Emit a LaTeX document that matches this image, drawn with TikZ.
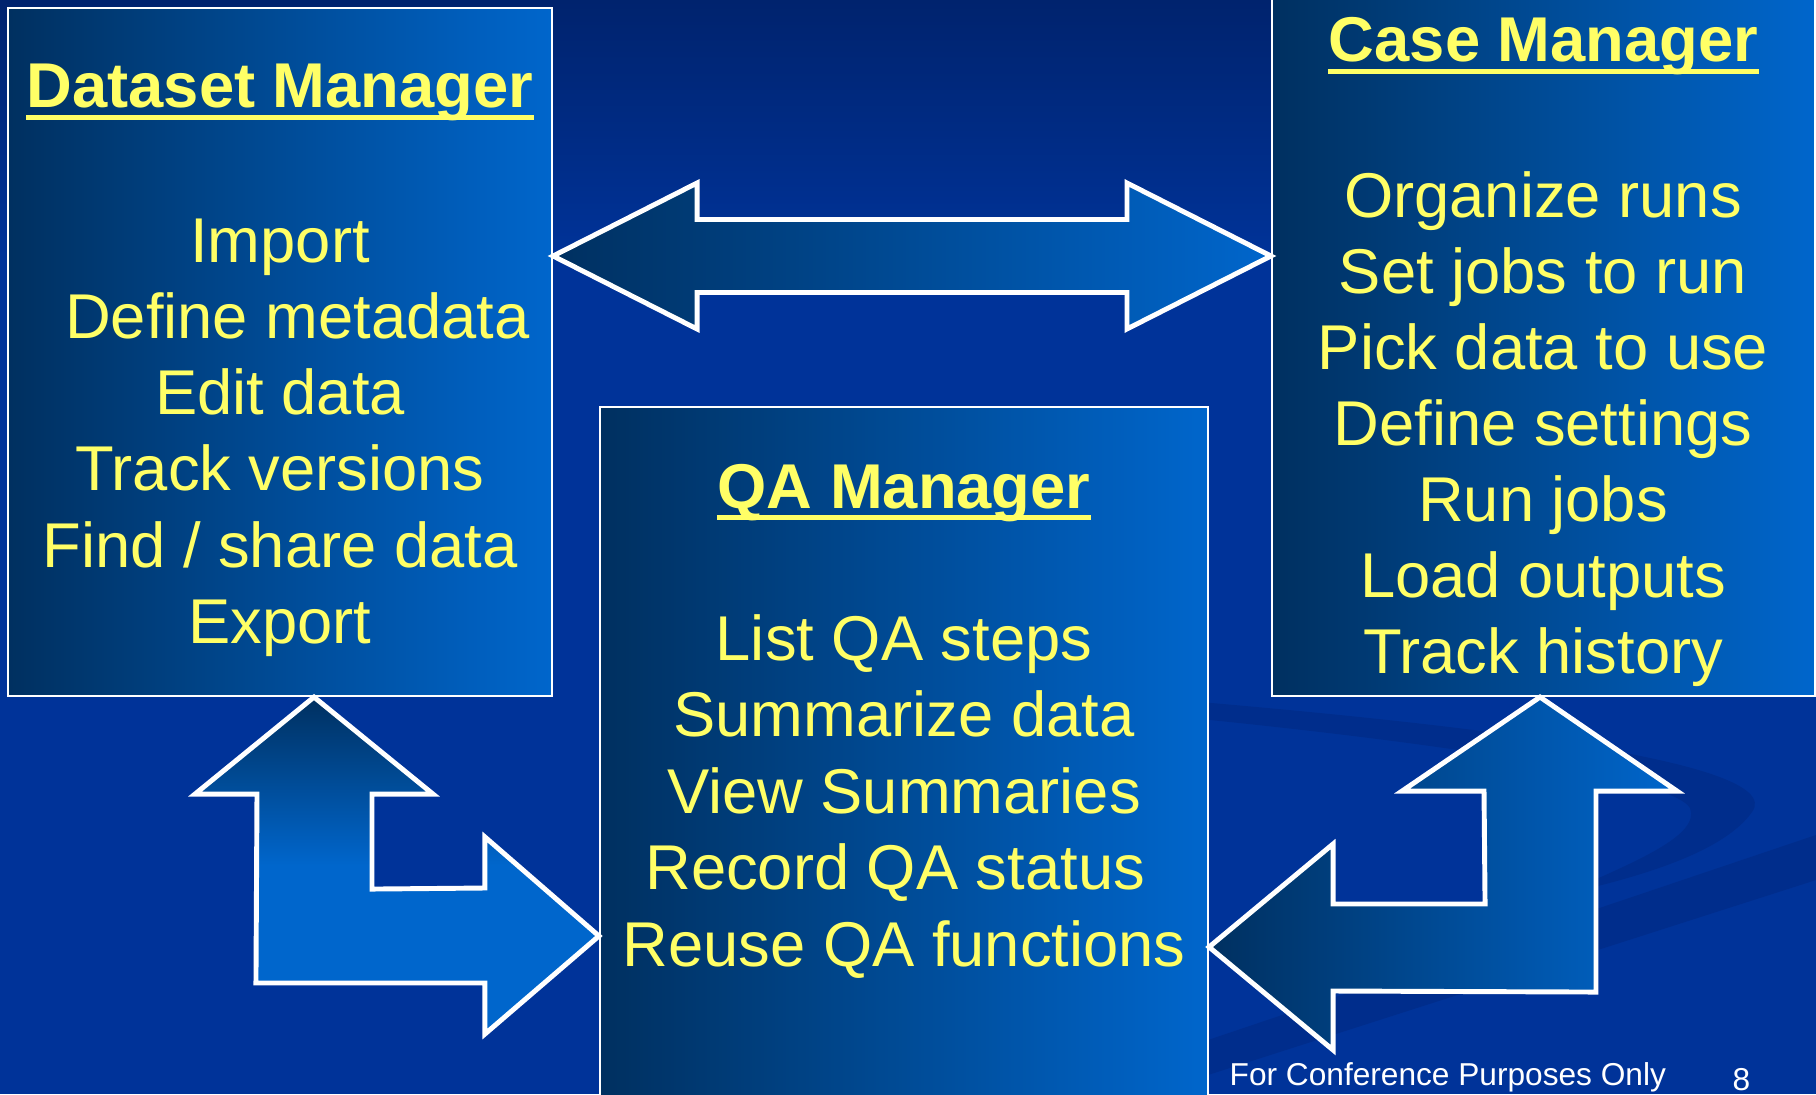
\documentclass[tikz,border=0pt]{standalone}
\usepackage{fontspec}
\setmainfont{Liberation Sans}
\usetikzlibrary{calc, fit}
\definecolor{bg}{RGB}{0,51,153}
\definecolor{bgtop}{RGB}{0,35,110}
\definecolor{bgdk}{RGB}{0,40,128}
\definecolor{boxdk}{RGB}{0,48,96}
\definecolor{boxlt}{RGB}{0,102,204}
\definecolor{yel}{RGB}{255,255,102}
\tikzset{mgrbox/.style={draw=white, line width=0.6pt, inner sep=0pt, left color=boxdk, right color=boxlt}}
\tikzset{blkarr/.style={draw=white, line width=1.4pt, line join=miter}}
\tikzset{ttl/.style={text=yel, inner sep=0pt, anchor=base, font=\fontsize{18}{21.7}\selectfont\bfseries}}
\tikzset{item/.style={text=yel, inner sep=0pt, anchor=base, font=\fontsize{18}{21.7}\selectfont}}
\tikzset{uline/.style={draw=yel, line width=1.4pt}}
\tikzset{foot/.style={text=white, inner sep=0pt, anchor=base west, font=\fontsize{9}{11}\selectfont}}
\tikzset{swoosh/.style={fill=bgdk, fill opacity=0.5}}

\begin{document}
\begin{tikzpicture}[x=0.01cm, y=-0.01cm]
	\useasboundingbox (0,0) rectangle (1816,1094);
	\clip (0,0) rectangle (1816,1094);
	\fill[bg] (0,0) rectangle (1816,1094);
	\shade[top color=bgtop, bottom color=bg] (0,0) rectangle (1816,260);
	% faint swooshes of the slide
	\fill[swoosh] (1050,690) .. controls (1450,720) and (1790,760) .. (1752,812)
		.. controls (1725,850) and (1650,875) .. (1560,895)
		.. controls (1640,860) and (1700,835) .. (1690,808)
		.. controls (1670,775) and (1400,735) .. (1050,705) -- cycle;
	\fill[swoosh] (1208,1040) -- (1816,835) -- (1816,880) -- (1208,1075) -- cycle;

	\node[mgrbox, fit={(8,8) (552,696)}] (ds) {};
	\node[mgrbox, fit={(600,407) (1208,1110)}] (qa) {};
	\node[mgrbox, fit={(1272,-10) (1815,696)}] (cm) {};

	\node[ttl] (dsT) at (ds.north |- 0,108) {Dataset Manager};
	\node[ttl] (qaT) at (qa.north |- 0,508) {QA Manager};
	\node[ttl] (cmT) at (cm.north |- 0,62) {Case Manager};
	\foreach \n in {dsT, qaT, cmT}
		\draw[uline] ([yshift=-2.7pt]\n.base west) -- ([yshift=-2.7pt]\n.base east);

	\foreach \t [count=\i from 0] in {Import, \hspace*{.55em}Define metadata, Edit data,
			Track versions, Find / share data, Export}
		\node[item] (ds-\i) at (280,262+76.3*\i) {\t};
	\foreach \t [count=\i from 0] in {List QA steps, Summarize data, View Summaries,
			Record QA status\hspace*{.28em}, Reuse QA functions}
		\node[item] (qa-\i) at (904,660+76.6*\i) {\t};
	\foreach \t [count=\i from 0] in {Organize runs, Set jobs to run, Pick data to use,
			Define settings, Run jobs, Load outputs, Track history}
		\node[item] (cm-\i) at (1543,217+76*\i) {\t};

	\coordinate (hL) at (ds.east |- 0,256);
	\coordinate (hR) at (cm.west |- 0,256);
	\coordinate (lU) at (314,0 |- ds.south);
	\coordinate (lR) at (qa.west |- 0,936);
	\coordinate (rU) at (1540,0 |- cm.south);
	\coordinate (rL) at (qa.east |- 0,947);

	\draw[blkarr, left color=boxdk, right color=boxlt]
		(hL) -- ++(144,-73) -- ++(0,36.5) -- ($(hR)+(-144,-36.5)$) -- ++(0,-36.5)
		-- (hR) -- ++(-144,73) -- ++(0,-36.5) -- ($(hL)+(144,36.5)$) -- ++(0,36.5) -- cycle;
	\draw[blkarr, top color=boxdk, bottom color=boxlt, middle color=boxlt]
		(lU) -- ++(119,97) -- ++(-61,0) -- ++(0,95) -- ($(lR)+(-114,-48)$) -- ++(0,-51)
		-- (lR) -- ++(-114,98) -- ++(0,-51) -- ++(-229,0) -- ($(lU)+(-57,97)$) -- ++(-62,0) -- cycle;
	\draw[blkarr, left color=boxdk, right color=boxlt]
		(rU) -- ++(137,94) -- ++(-81,0) -- ++(0,201) -- ($(rL)+(124,44)$) -- ++(0,59)
		-- (rL) -- ++(124,-103) -- ++(0,60) -- ++(152,0) -- ($(rU)+(-56,94)$) -- ++(-82,0) -- cycle;

	\node[foot] (fnote) at (1229,1085) {For Conference Purposes Only};
	\node[foot] (pgno) at (1732,1090) {8};
\end{tikzpicture}
\end{document}
